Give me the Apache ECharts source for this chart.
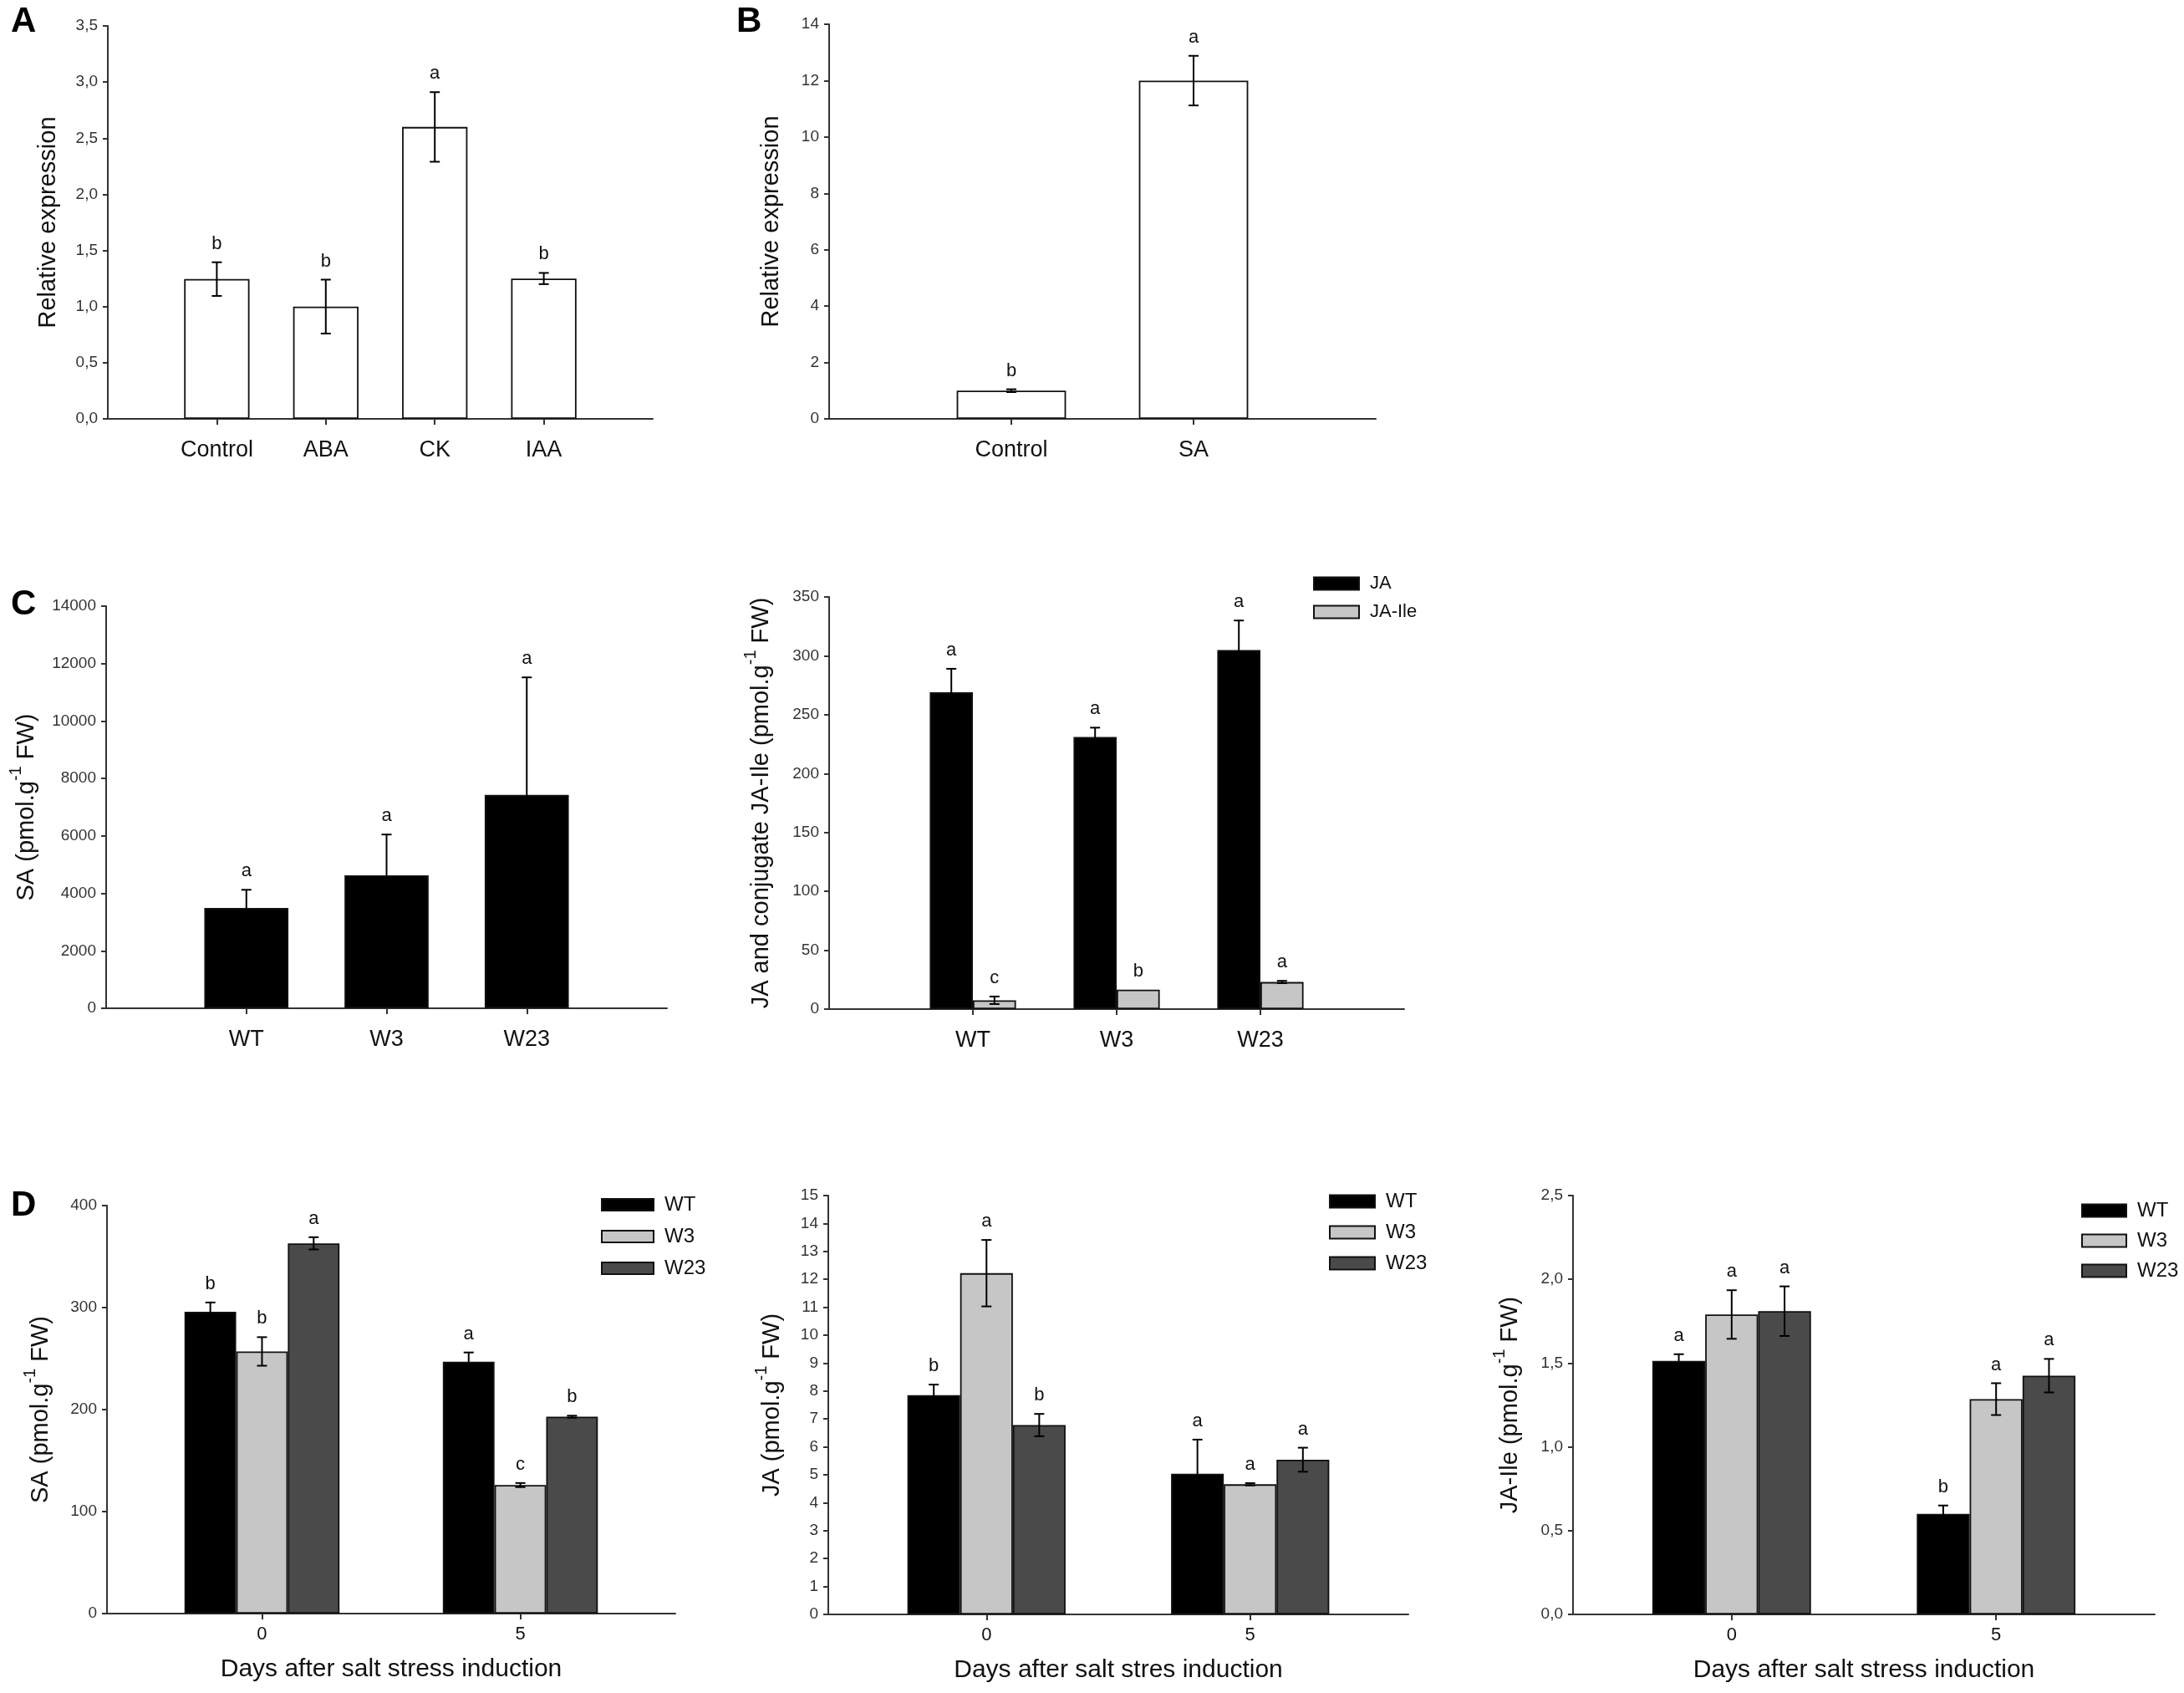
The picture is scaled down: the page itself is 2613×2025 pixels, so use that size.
<!DOCTYPE html>
<html>
<head>
<meta charset="utf-8">
<script src="https://cdn.jsdelivr.net/npm/echarts@6/dist/echarts.min.js"></script>
<style>
  html, body { margin: 0; padding: 0; background: #fff; }
  #chart { width: 2613px; height: 2025px; }
</style>
</head>
<body>
<div id="chart"></div>
<script>
"use strict";
// Panel A - relative expression after hormone treatments
var aCats = ['Control', 'ABA', 'CK', 'IAA'];
var aMean = [1.245, 1.00, 2.60, 1.25];
var aErr = [0.15, 0.24, 0.31, 0.05];
var aLetters = ['b', 'b', 'a', 'b'];

// Panel B - relative expression after SA
var bCats = ['Control', 'SA'];
var bMean = [1.0, 12.0];
var bErr = [0.05, 0.88];
var bLetters = ['b', 'a'];

// Panel C - hormone content in lines
var cCats = ['WT', 'W3', 'W23'];
var cSA = [3490, 4630, 7430];
var cSAErr = [635, 1420, 4090];
var cSALetters = ['a', 'a', 'a'];
var cJA = [269, 231, 305];
var cJAErr = [20, 8, 25];
var cJALetters = ['a', 'a', 'a'];
var cJAIle = [7.5, 16.5, 23];
var cJAIleErr = [3.2, 0, 1];
var cJAIleLetters = ['c', 'b', 'a'];

// Panel D - days after salt stress (rows: WT, W3, W23)
var dDays = [0, 5];
var dLines = ['WT', 'W3', 'W23'];
var dSA = [[296, 247], [257, 126], [363, 193]];
var dSAErr = [[9, 9], [14, 2], [6, 1]];
var dSALetters = [['b', 'a'], ['b', 'c'], ['a', 'b']];
var dJA = [[7.85, 5.04], [12.22, 4.66], [6.78, 5.54]];
var dJAErr = [[0.38, 1.22], [1.19, 0.04], [0.40, 0.43]];
var dJALetters = [['b', 'a'], ['a', 'a'], ['b', 'a']];
var dIle = [[1.513, 0.60], [1.79, 1.285], [1.81, 1.425]];
var dIleErr = [[0.04, 0.05], [0.145, 0.095], [0.148, 0.10]];
var dIleLetters = [['a', 'b'], ['a', 'a'], ['a', 'a']];

var ink = '#000';
var sans = 'Liberation Sans, Arial, sans-serif';
var dColors = ['#000', '#c6c6c6', '#4a4a4a'];

function comma(v) { return v.toFixed(1).replace('.', ','); }
function plain(v) { return String(v); }
function positions(n) { var r = []; for (var i = 1; i <= n; i++) r.push(i); return r; }
function pairs(xs, ys) { return xs.map(function (x, i) { return [x, ys[i]]; }); }

function seg(x1, y1, x2, y2) {
    return { type: 'line', shape: { x1: x1, y1: y1, x2: x2, y2: y2 }, style: { stroke: ink, lineWidth: 2 } };
}

// error bars + significance letters drawn on top of the bars
function errSeries(grid, xs, means, errs, letters, shift) {
    return {
        type: 'custom', xAxisIndex: grid, yAxisIndex: grid, z: 5, silent: true, clip: false,
        data: xs.map(function (x, i) { return [x + shift, means[i], errs[i]]; }),
        encode: { x: 0, y: 1 },
        renderItem: function (params, api) {
            var x = api.value(0), m = api.value(1), e = api.value(2);
            var top = api.coord([x, m + e]), bot = api.coord([x, m - e]);
            var kids = [];
            if (e > 0) {
                kids.push(seg(top[0], top[1], bot[0], bot[1]));
                kids.push(seg(top[0] - 6, top[1], top[0] + 6, top[1]));
                kids.push(seg(bot[0] - 6, bot[1], bot[0] + 6, bot[1]));
            }
            kids.push({
                type: 'text',
                style: {
                    text: letters[params.dataIndex], x: top[0], y: top[1] - 11,
                    align: 'center', verticalAlign: 'bottom',
                    fontSize: 22, fontFamily: sans, fill: '#111'
                }
            });
            return { type: 'group', children: kids };
        }
    };
}

function barSeries(name, grid, xs, ys, color, width) {
    return {
        name: name, type: 'bar', xAxisIndex: grid, yAxisIndex: grid,
        data: pairs(xs, ys), barWidth: width, barGap: '0%',
        itemStyle: { color: color, borderColor: '#111', borderWidth: 1.8 },
        emphasis: { disabled: true }
    };
}

function xAxis(grid, min, max, ticks, labels, size, margin, name) {
    return {
        type: 'value', gridIndex: grid, min: min, max: max,
        splitLine: { show: false },
        axisLine: { lineStyle: { color: '#333', width: 2 } },
        axisTick: { customValues: ticks, length: 7, lineStyle: { color: '#333', width: 2 } },
        axisLabel: {
            customValues: ticks, margin: margin, fontSize: size, fontFamily: sans, color: '#111',
            formatter: function (v) { return labels[ticks.indexOf(v)]; }
        },
        name: name || '', nameLocation: 'middle', nameGap: 52,
        nameTextStyle: { fontSize: 30, fontFamily: sans, color: '#111' }
    };
}

function yAxis(grid, max, step, name, gap, fmt) {
    return {
        type: 'value', gridIndex: grid, min: 0, max: max, interval: step,
        splitLine: { show: false },
        axisLine: { show: true, onZero: false, lineStyle: { color: '#333', width: 2 } },
        axisTick: { show: true, length: 6, lineStyle: { color: '#333', width: 2 } },
        axisLabel: { margin: 12, fontSize: 19, fontFamily: sans, color: '#333', formatter: fmt || plain },
        name: name, nameLocation: 'middle', nameGap: gap,
        nameTextStyle: {
            fontSize: 29, fontFamily: sans, color: '#111', lineHeight: 46,
            rich: { sup: { fontSize: 20, fontFamily: sans, color: '#111', verticalAlign: 'top' } }
        }
    };
}

function legend(left, top, w, h, gap, size, names) {
    return {
        orient: 'vertical', left: left, top: top, itemWidth: w, itemHeight: h, itemGap: gap,
        icon: 'rect', selectedMode: false, data: names, padding: 0,
        textStyle: { fontSize: size, fontFamily: sans, color: '#111', lineHeight: 16, padding: [0, 0, 0, 8] }
    };
}

function panelTitle(text, left, top) {
    return { text: text, left: left, top: top, textStyle: { fontSize: 42, fontWeight: 'bold', fontFamily: sans, color: '#000' } };
}

var chart = echarts.init(document.getElementById('chart'));

var grids = [
    { left: 129, top: 31, width: 652, height: 470 },
    { left: 992, top: 29, width: 654, height: 472 },
    { left: 127, top: 725, width: 671, height: 481 },
    { left: 992, top: 714, width: 688, height: 493 },
    { left: 128, top: 1442, width: 680, height: 488 },
    { left: 991, top: 1430, width: 694, height: 501 },
    { left: 1882, top: 1430, width: 696, height: 501 }
];

var aX = positions(aCats.length), bX = positions(bCats.length), cX = positions(cCats.length);
var dayLabels = dDays.map(String);

var series = [
    barSeries('A', 0, aX, aMean, '#fff', '60%'),
    errSeries(0, aX, aMean, aErr, aLetters, 0),
    barSeries('B', 1, bX, bMean, '#fff', '60%'),
    errSeries(1, bX, bMean, bErr, bLetters, 0),
    barSeries('SA', 2, cX, cSA, '#000', '60%'),
    errSeries(2, cX, cSA, cSAErr, cSALetters, 0),
    barSeries('JA', 3, cX, cJA, '#000', '30%'),
    barSeries('JA-Ile', 3, cX, cJAIle, '#c6c6c6', '30%'),
    errSeries(3, cX, cJA, cJAErr, cJALetters, -0.15),
    errSeries(3, cX, cJAIle, cJAIleErr, cJAIleLetters, 0.15)
];

var dSets = [
    [4, dSA, dSAErr, dSALetters],
    [5, dJA, dJAErr, dJALetters],
    [6, dIle, dIleErr, dIleLetters]
];
dSets.forEach(function (s) {
    dLines.forEach(function (ln, i) {
        series.push(barSeries(ln, s[0], dDays, s[1][i], dColors[i], '20%'));
    });
    dLines.forEach(function (ln, i) {
        series.push(errSeries(s[0], dDays, s[1][i], s[2][i], s[3][i], i - 1));
    });
});

var option = {
    backgroundColor: '#fff',
    animation: false,
    title: [
        panelTitle('A', 8, 0),
        panelTitle('B', 876, 0),
        panelTitle('C', 8, 697),
        panelTitle('D', 8, 1416)
    ],
    legend: [
        legend(1571, 687, 54, 15, 12, 22, ['JA', 'JA-Ile']),
        legend(719, 1429, 62, 14, 14, 24, dLines),
        legend(1590, 1425, 54, 15, 13, 24, dLines),
        legend(2490, 1436, 53, 15, 12, 24, dLines)
    ],
    grid: grids,
    xAxis: [
        xAxis(0, 0, 5, aX, aCats, 27, 24),
        xAxis(1, 0, 3, bX, bCats, 27, 24),
        xAxis(2, 0, 4, cX, cCats, 27, 24),
        xAxis(3, 0, 4, cX, cCats, 27, 24),
        xAxis(4, -3, 8, dDays, dayLabels, 22, 14, 'Days after salt stress induction'),
        xAxis(5, -3, 8, dDays, dayLabels, 22, 14, 'Days after salt stres induction'),
        xAxis(6, -3, 8, dDays, dayLabels, 22, 14, 'Days after salt stress induction')
    ],
    yAxis: [
        yAxis(0, 3.5, 0.5, 'Relative expression', 48, comma),
        yAxis(1, 14, 2, 'Relative expression', 46),
        yAxis(2, 14000, 2000, 'SA (pmol.g{sup|-1} FW)', 72),
        yAxis(3, 350, 50, 'JA and conjugate JA-Ile (pmol.g{sup|-1} FW)', 58),
        yAxis(4, 400, 100, 'SA (pmol.g{sup|-1} FW)', 56),
        yAxis(5, 15, 1, 'JA (pmol.g{sup|-1} FW)', 44),
        yAxis(6, 2.5, 0.5, 'JA-Ile (pmol.g{sup|-1} FW)', 52, comma)
    ],
    series: series
};

chart.setOption(option);
</script>
</body>
</html>
